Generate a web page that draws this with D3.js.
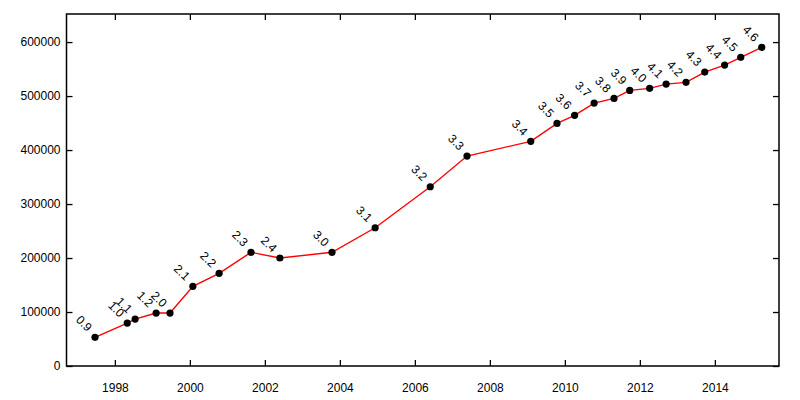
<!DOCTYPE html>
<html>
  <head>
    <meta http-equiv="Content-Type" content="text/html;charset=utf-8"/>
    <script src="https://d3js.org/d3.v7.min.js"></script>
    <style>
      body { margin: 0; background: #fff; }
      text { font-family: "Liberation Sans", Arial, sans-serif; font-size: 12px; fill: #000; }
    </style>
  </head>
  <body>
    <script type="text/javascript">

// release labels, release date (decimal year) and size
var versions = ["0.9","1.0","1.1","1.2","2.0","2.1","2.2","2.3","2.4","3.0","3.1","3.2","3.3",
                "3.4","3.5","3.6","3.7","3.8","3.9","4.0","4.1","4.2","4.3","4.4","4.5","4.6"];
var dates = [1997.47, 1998.33, 1998.54, 1999.10, 1999.47, 2000.08, 2000.78, 2001.63, 2002.40,
             2003.79, 2004.94, 2006.41, 2007.39, 2009.09, 2009.79, 2010.26, 2010.78, 2011.31,
             2011.73, 2012.26, 2012.70, 2013.23, 2013.73, 2014.26, 2014.69, 2015.25];
var values = [53100, 79600, 87000, 98100, 98100, 147600, 171700, 210600, 200000,
              210600, 256100, 332000, 388900, 416100, 449400, 464300, 487000, 495700,
              510500, 514300, 522200, 525400, 544400, 557400, 571700, 590200];
var xTicks = [1998, 2000, 2002, 2004, 2006, 2008, 2010, 2012, 2014];
var yTicks = [0, 100000, 200000, 300000, 400000, 500000, 600000];

var w = 800, h = 400;
var mL = 66.5, mR = 779, mT = 14, mB = 366;

var svg = d3.select("body").append("svg")
  .attr("width", w)
  .attr("height", h);

var x = d3.scaleLinear().domain([1996.71, 2015.71]).range([mL, mR]);
var y = d3.scaleLinear().domain([0, 652000]).range([mB, mT]);

var data = versions.map(function(v, i) { return {v: v, t: dates[i], n: values[i]}; });

// inward ticks on all four sides, gnuplot style
var tk = 6;
function axis(gen, tr) {
  var g = svg.append("g").attr("transform", tr).call(gen);
  g.select(".domain").remove();
  g.selectAll("line").attr("stroke", "#000").attr("stroke-width", 1.3);
  g.selectAll("text").style("font-family", "Liberation Sans, Arial, sans-serif").style("font-size", "12px");
  return g;
}
axis(d3.axisBottom(x).tickValues(xTicks).tickFormat(d3.format("d")).tickSizeInner(-tk).tickPadding(17),
     "translate(0," + mB + ")");
axis(d3.axisTop(x).tickValues(xTicks).tickFormat("").tickSizeInner(-tk), "translate(0," + mT + ")");
axis(d3.axisLeft(y).tickValues(yTicks).tickFormat(d3.format("d")).tickSizeInner(-tk).tickPadding(6),
     "translate(" + mL + ",0)");
axis(d3.axisRight(y).tickValues(yTicks).tickFormat("").tickSizeInner(-tk), "translate(" + mR + ",0)");

svg.append("rect")
  .attr("x", mL).attr("y", mT)
  .attr("width", mR - mL).attr("height", mB - mT)
  .attr("fill", "none").attr("stroke", "#000").attr("stroke-width", 1.5);

var line = d3.line().x(function(d) { return x(d.t); }).y(function(d) { return y(d.n); });

svg.append("path")
  .datum(data)
  .attr("d", line)
  .attr("fill", "none")
  .attr("stroke", "#ff0000")
  .attr("stroke-width", 1.4);

svg.selectAll("circle.pt").data(data).enter().append("circle")
  .attr("class", "pt")
  .attr("cx", function(d) { return x(d.t); })
  .attr("cy", function(d) { return y(d.n); })
  .attr("r", 3.6)
  .attr("fill", "#000");

svg.selectAll("text.lbl").data(data).enter().append("text")
  .attr("class", "lbl")
  .attr("text-anchor", "end")
  .attr("transform", function(d) {
    return "translate(" + (x(d.t) - 8) + "," + (y(d.n) - 5) + ")rotate(45)";
  })
  .text(function(d) { return d.v; });

    </script>
  </body>
</html>
